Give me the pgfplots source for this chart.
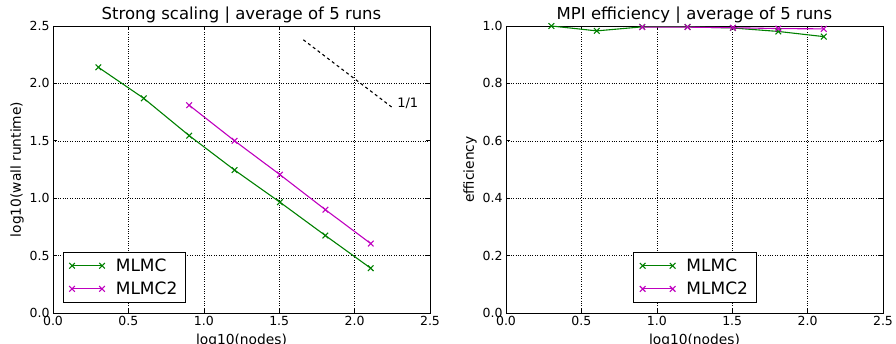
\documentclass[border=0pt]{standalone}
\usepackage{pgfplots}
\pgfplotsset{compat=1.18}
\usepackage{fontspec}
\setmainfont{DejaVu Sans}
\definecolor{mplgreen}{rgb}{0,0.5,0}
\definecolor{mplmag}{rgb}{0.75,0,0.75}
\pgfplotsset{
  common/.style={
    scale only axis, width=377pt, height=287pt,
    xmin=0, xmax=2.5, xtick distance=0.5,
    grid=major, major grid style={dotted, black, line width=0.5pt},
    axis line style={line width=0.8pt},
    tick align=inside, major tick length=4pt,
    tick style={black, line width=0.6pt},
    /pgf/number format/assume math mode=true,
    xticklabel style={/pgf/number format/.cd, fixed, fixed zerofill, precision=1},
    yticklabel style={/pgf/number format/.cd, fixed, fixed zerofill, precision=1},
    ticklabel style={font=\fontsize{12.5}{14}\selectfont},
    label style={font=\fontsize{13.8}{15}\selectfont},
    title style={font=\fontsize{16.5}{18}\selectfont, yshift=-7pt},
    xlabel style={yshift=-1pt},
    legend style={font=\fontsize{17}{19}\selectfont, draw=black, line width=0.8pt, inner xsep=6pt, inner ysep=4pt, row sep=5pt},
    legend cell align=left,
    legend image code/.code={\draw[#1] plot coordinates {(0pt,0pt) (30pt,0pt)};},
  },
  g/.style={mplgreen, line width=1.1pt, mark=x, mark size=4pt, mark options={line width=1.1pt}},
  m/.style={mplmag, line width=1.1pt, mark=x, mark size=4pt, mark options={line width=1.1pt}},
}
\begin{document}
\begin{tikzpicture}[x=1pt,y=1pt]
\useasboundingbox (0,0) rectangle (896,343);
\begin{axis}[common, at={(53pt,30pt)}, anchor=south west,
  ymin=0, ymax=2.5, ytick distance=0.5,
  title={Strong scaling | average of 5 runs},
  xlabel={log10(nodes)}, ylabel={log10(wall runtime)},
  ylabel style={yshift=-1pt},
  legend style={at={(axis cs:0.065,0.093)}, anchor=south west},
]
\addplot[g] coordinates {(0.301,2.14) (0.602,1.87) (0.903,1.545) (1.204,1.245) (1.505,0.965) (1.806,0.675) (2.107,0.39)};
\addlegendentry{\hspace*{9pt}MLMC}
\addplot[m] coordinates {(0.903,1.81) (1.204,1.50) (1.505,1.205) (1.806,0.90) (2.107,0.605)};
\addlegendentry{\hspace*{9pt}MLMC2}
\addplot[black, dashed, line width=1.1pt, forget plot] coordinates {(1.66,2.38) (2.25,1.79)};
\node[anchor=west, font=\fontsize{13}{15}\selectfont] at (axis cs:2.26,1.83) {1/1};
\end{axis}
\begin{axis}[common, at={(506pt,30pt)}, anchor=south west,
  ymin=0, ymax=1.0, ytick distance=0.2,
  title={MPI efficiency | average of 5 runs},
  xlabel={log10(nodes)}, ylabel={efficiency},
  ylabel style={yshift=-1pt},
  legend style={at={(axis cs:0.845,0.037)}, anchor=south west},
]
\addplot[g] coordinates {(0.301,1.0) (0.602,0.983) (0.903,0.997) (1.204,0.997) (1.505,0.993) (1.806,0.981) (2.107,0.963)};
\addlegendentry{\hspace*{9pt}MLMC}
\addplot[m] coordinates {(0.903,0.996) (1.204,0.996) (1.505,0.994) (1.806,0.991) (2.107,0.990)};
\addlegendentry{\hspace*{9pt}MLMC2}
\end{axis}
\end{tikzpicture}
\end{document}
